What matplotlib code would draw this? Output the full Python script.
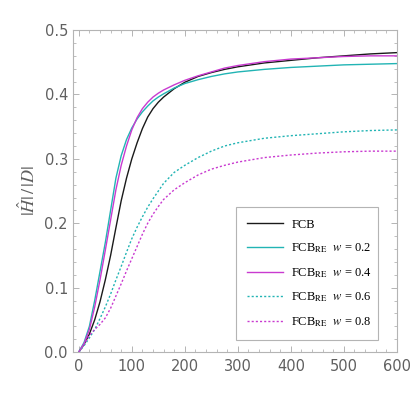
import numpy as np
import matplotlib.pyplot as plt
from matplotlib.ticker import MultipleLocator

# --- Data ---
x = [0, 10, 20, 30, 40, 50, 60, 70, 80, 90, 100, 110, 120, 130, 140, 150, 160,
     180, 200, 225, 250, 275, 300, 350, 400, 450, 500, 550, 600]

fcb = [0, 0.012, 0.028, 0.05, 0.078, 0.112, 0.15, 0.193, 0.235, 0.27, 0.3, 0.325,
       0.347, 0.365, 0.378, 0.388, 0.396, 0.409, 0.419, 0.428, 0.434, 0.439, 0.443,
       0.449, 0.453, 0.457, 0.46, 0.463, 0.465]
re_w02 = [0, 0.015, 0.04, 0.08, 0.125, 0.17, 0.22, 0.27, 0.305, 0.33, 0.348, 0.362,
          0.373, 0.382, 0.39, 0.396, 0.401, 0.41, 0.417, 0.423, 0.428, 0.432, 0.435,
          0.439, 0.442, 0.444, 0.446, 0.447, 0.448]
re_w04 = [0, 0.013, 0.035, 0.07, 0.112, 0.158, 0.205, 0.252, 0.29, 0.32, 0.345, 0.364,
          0.378, 0.388, 0.396, 0.402, 0.407, 0.415, 0.422, 0.429, 0.435, 0.441, 0.445,
          0.451, 0.455, 0.457, 0.459, 0.46, 0.46]
re_w06 = [0, 0.01, 0.022, 0.035, 0.052, 0.07, 0.09, 0.112, 0.133, 0.155, 0.176, 0.194,
          0.21, 0.225, 0.238, 0.25, 0.262, 0.279, 0.29, 0.302, 0.312, 0.32, 0.325,
          0.332, 0.336, 0.339, 0.342, 0.344, 0.345]
re_w08 = [0, 0.012, 0.026, 0.035, 0.043, 0.053, 0.068, 0.087, 0.106, 0.126, 0.145, 0.164,
          0.183, 0.2, 0.214, 0.226, 0.237, 0.252, 0.263, 0.275, 0.284, 0.29, 0.295,
          0.302, 0.306, 0.309, 0.311, 0.312, 0.312]

labels = ["FCB",
          r"FCB$_{\mathrm{RE}}$  $w$ = 0.2",
          r"FCB$_{\mathrm{RE}}$  $w$ = 0.4",
          r"FCB$_{\mathrm{RE}}$  $w$ = 0.6",
          r"FCB$_{\mathrm{RE}}$  $w$ = 0.8"]

CYAN = "#22b4b4"
MAG = "#c93ad0"
GRAY = "#b4b4b4"
TXT = "#606060"

plt.rcParams["mathtext.fontset"] = "stix"

fig = plt.figure(figsize=(4.16, 3.96), dpi=100)
ax = fig.add_axes([0.175, 0.111, 0.779, 0.813])

ax.plot(x, fcb, color="#1a1a1a", lw=1.0, label=labels[0])
ax.plot(x, re_w02, color=CYAN, lw=1.0, label=labels[1])
ax.plot(x, re_w04, color=MAG, lw=1.0, label=labels[2])
ax.plot(x, re_w06, color=CYAN, lw=1.0, ls=(0, (1.5, 1.5)), label=labels[3])
ax.plot(x, re_w08, color=MAG, lw=1.0, ls=(0, (1.5, 1.5)), label=labels[4])

ax.set_xlim(-11.3, 600)
ax.set_ylim(0, 0.5)
ax.xaxis.set_major_locator(MultipleLocator(100))
ax.xaxis.set_minor_locator(MultipleLocator(20))
ax.yaxis.set_major_locator(MultipleLocator(0.1))
ax.yaxis.set_minor_locator(MultipleLocator(0.02))
ax.yaxis.set_major_formatter(plt.FormatStrFormatter("%.1f"))

for s in ax.spines.values():
    s.set_color(GRAY)
    s.set_linewidth(0.8)
ax.tick_params(which="both", direction="in", top=True, right=True, colors=GRAY,
               labelcolor=TXT, labelsize=10.5)
ax.tick_params(which="major", length=4, width=0.7)
ax.tick_params(axis="x", which="major", pad=5)

ax.set_ylabel(r"$|\hat{H}|\,/\,|D|$", color=TXT, fontsize=13, labelpad=4)

leg = ax.legend(loc="lower left", bbox_to_anchor=(0.503, 0.037, 0.438, 0.42),
                mode="expand", borderaxespad=0, fancybox=False, edgecolor=GRAY,
                framealpha=1, borderpad=0.9, labelspacing=0.86, handlelength=2.9,
                handletextpad=0.65, prop={"family": "Liberation Serif", "size": 9})
leg.get_frame().set_linewidth(0.8)

fig.savefig("out.png", dpi=100)
